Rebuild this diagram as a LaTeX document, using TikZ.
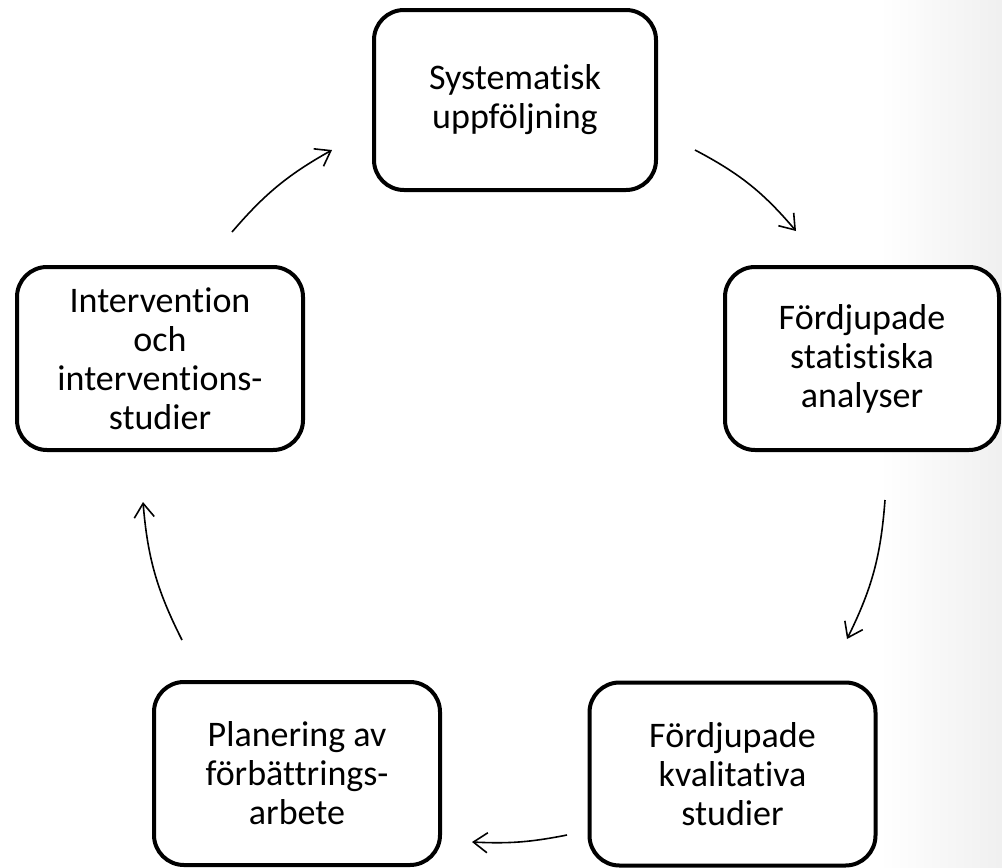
\documentclass[tikz,border=0pt]{standalone}
\usepackage{fontspec}
\setmainfont{Carlito}[Ligatures={NoCommon,NoContextual}]
\usetikzlibrary{arrows.meta}
\begin{document}
\begin{tikzpicture}[x=1pt,y=-1pt,
  stepbox/.style={draw=black, line width=4pt, rounded corners=30pt, fill=white,
    align=center, inner sep=0pt, minimum width=286pt, minimum height=183pt,
    font=\fontsize{36}{39}\selectfont},
  cyc/.style={line width=1.6pt, -{Straight Barb[length=14pt,width=20pt]}}]
\useasboundingbox (0,0) rectangle (1002,868);
\shade[left color=white,right color=black!6] (880,0) rectangle (1002,868);

\node[stepbox, minimum width=282pt, minimum height=180pt] (sys) at (515,100) {Systematisk\\uppföljning};
\node[stepbox, minimum width=274pt] (stat) at (862,358.5) {Fördjupade\\statistiska\\analyser};
\node[stepbox] (kval) at (732.5,774) {Fördjupade\\kvalitativa\\studier};
\node[stepbox] (plan) at (297,773.5) {Planering av\\förbättrings-\\arbete};
\node[stepbox] (int) at (160,358.5) {Intervention\\och\\interventions-\\studier};

\coordinate (a1s) at (695,150); \coordinate (a1e) at (796,231);
\coordinate (a2s) at (885,500); \coordinate (a2e) at (847,639);
\coordinate (a3s) at (567,835); \coordinate (a3e) at (472,842);
\coordinate (a4s) at (182,640); \coordinate (a4e) at (143,502);
\coordinate (a5s) at (232,232); \coordinate (a5e) at (332,150);

\draw[cyc] (a1s) to[bend left=11] (a1e);
\draw[cyc] (a2s) to[bend left=11] (a2e);
\draw[cyc] (a3s) to[bend left=7] (a3e);
\draw[cyc] (a4s) to[bend left=11] (a4e);
\draw[cyc] (a5s) to[bend left=10] (a5e);
\end{tikzpicture}
\end{document}
